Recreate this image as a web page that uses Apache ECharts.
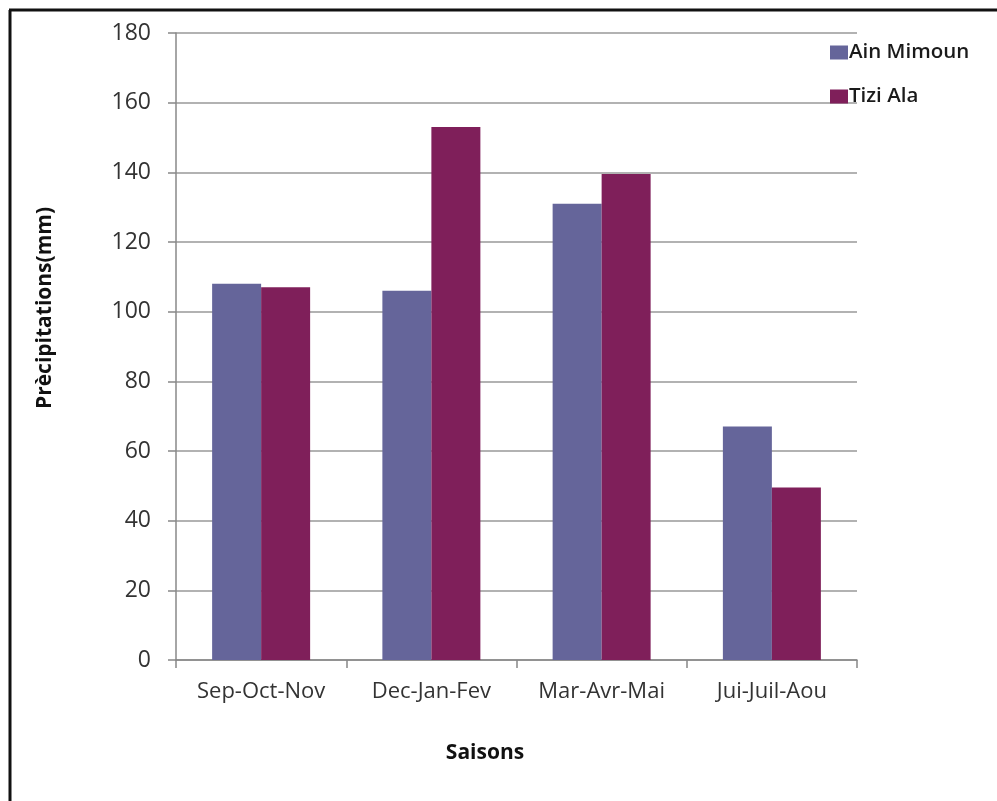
<!DOCTYPE html>
<html>
<head>
<meta charset="utf-8">
<script src="https://cdn.jsdelivr.net/npm/echarts@6/dist/echarts.min.js"></script>
<style>html,body{margin:0;padding:0;background:#fff}#c{width:997px;height:801px}</style>
</head>
<body>
<div id="c"></div>
<script>
const categories = ['Sep-Oct-Nov', 'Dec-Jan-Fev', 'Mar-Avr-Mai', 'Jui-Juil-Aou'];
const ainMimoun = [108, 106, 131, 67];
const tiziAla = [107, 153, 139.5, 49.5];
const seriesNames = ['Ain Mimoun', 'Tizi Ala'];
const yTitle = 'Prècipitations(mm)';
const xTitle = 'Saisons';

const chart = echarts.init(document.getElementById('c'));
const font = '"Open Sans", "Noto Sans", sans-serif';
chart.setOption({
  animation: false,
  backgroundColor: '#fff',
  textStyle: { fontFamily: font },
  grid: { left: 176, right: 140, top: 33, bottom: 141, containLabel: false },
  legend: {
    orient: 'vertical', left: 825, top: 37,
    itemWidth: 18, itemHeight: 14, itemGap: 23,
    icon: 'rect',
    textStyle: { fontSize: 20.5, fontWeight: 600, color: '#1a1a1a', fontFamily: font, padding: [0, 0, 0, -4] },
    data: seriesNames
  },
  xAxis: {
    type: 'category', data: categories,
    axisLine: { lineStyle: { color: '#888', width: 1.5 } },
    axisTick: { show: true, interval: 0, length: 8, lineStyle: { color: '#888', width: 1.5 } },
    axisLabel: { interval: 0, hideOverlap: false, fontSize: 22, color: '#333', margin: 21, fontFamily: font }
  },
  yAxis: {
    type: 'value', min: 0, max: 180, interval: 20,
    axisLine: { show: true, lineStyle: { color: '#888', width: 1.5 } },
    axisTick: { show: true, length: 8, lineStyle: { color: '#888', width: 1.5 } },
    axisLabel: { fontSize: 23, color: '#333', margin: 25, fontFamily: font },
    splitLine: { lineStyle: { color: '#999', width: 1.5 } }
  },
  series: [
    { name: seriesNames[0], type: 'bar', data: ainMimoun, barWidth: 49, barGap: '0%',
      itemStyle: { color: '#65659A' } },
    { name: seriesNames[1], type: 'bar', data: tiziAla, barWidth: 49, barGap: '0%',
      itemStyle: { color: '#7F1F5A' } }
  ],
  graphic: [
    { type: 'line', shape: { x1: 10, y1: 10, x2: 10, y2: 801 }, style: { stroke: '#111', lineWidth: 3 } },
    { type: 'line', shape: { x1: 9, y1: 10, x2: 997, y2: 10 }, style: { stroke: '#111', lineWidth: 3 } },
    { type: 'text', x: 45, y: 308, rotation: Math.PI / 2,
      style: { text: yTitle, font: 'bold 21px ' + font, fill: '#111', align: 'center', verticalAlign: 'middle' } },
    { type: 'text', x: 485, y: 753,
      style: { text: xTitle, font: 'bold 21px ' + font, fill: '#111', align: 'center', verticalAlign: 'middle' } }
  ]
});
</script>
</body>
</html>
